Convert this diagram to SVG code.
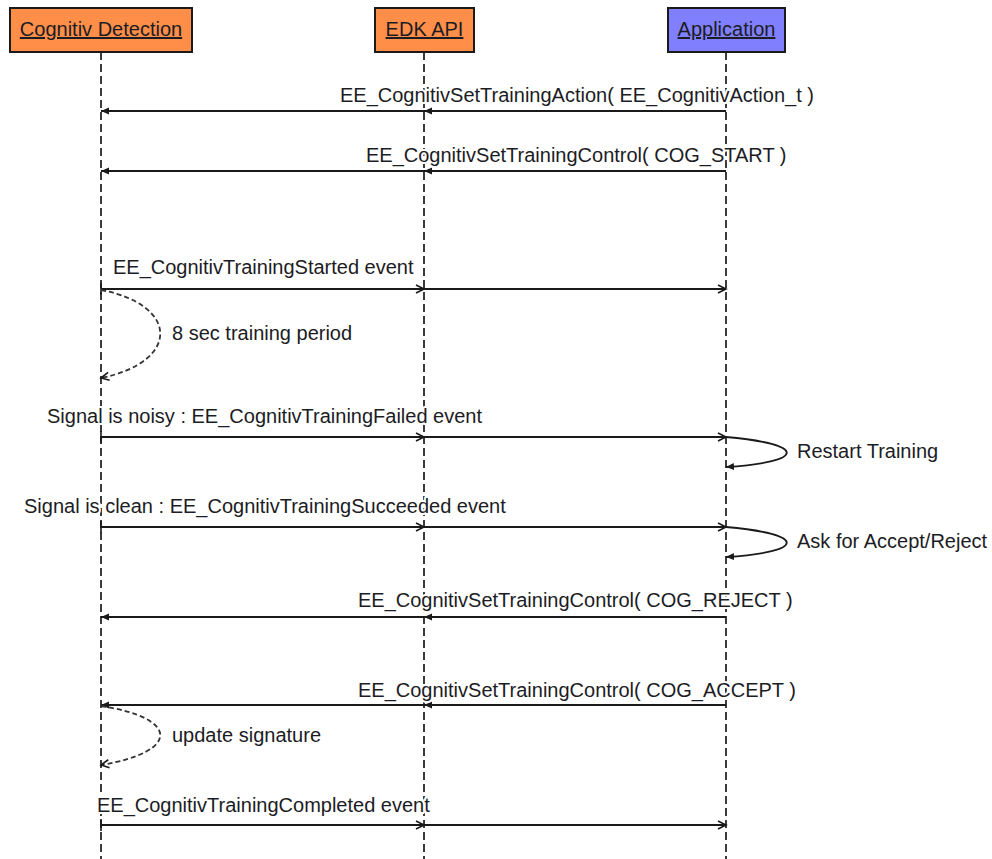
<svg xmlns="http://www.w3.org/2000/svg" width="992" height="859" viewBox="0 0 992 859">
<defs>
<style>
text{font-family:"Liberation Sans",Arial,sans-serif;font-size:20px;fill:#1c1c24}
#connectors text{stroke:#fff;stroke-width:4;paint-order:stroke;stroke-linejoin:round}
.box{stroke:#1a1a1a;stroke-width:2}
.orange{fill:#FF8E48}
.blue{fill:#8080FF}
.life{stroke:#1a1a1a;stroke-width:1.7;stroke-dasharray:8 4;fill:none}
.msg{stroke:#1a1a1a;stroke-width:1.8;fill:none}
.dash{stroke:#333;stroke-width:1.8;fill:none;stroke-dasharray:5 3}
.ul{text-decoration:underline}
</style>
<marker id="fill" markerUnits="userSpaceOnUse" markerWidth="10" markerHeight="8" refX="8" refY="3.5" orient="auto">
<path d="M0,0 L8,3.5 L0,7 z" fill="#1a1a1a"/>
</marker>
<marker id="open" markerUnits="userSpaceOnUse" markerWidth="12" markerHeight="12" refX="9" refY="5" orient="auto">
<path d="M1,1 L9,5 L1,9" fill="none" stroke="#1a1a1a" stroke-width="1.6"/>
</marker>
<marker id="tick" markerUnits="userSpaceOnUse" markerWidth="4" markerHeight="12" refX="1" refY="6" orient="auto">
<path d="M1,0 L1,12" stroke="#1a1a1a" stroke-width="1.6"/>
</marker>
</defs>
<rect width="992" height="859" fill="#fff"/>

<g id="cognitiv">
<line class="life" x1="101" y1="52" x2="101" y2="859"/>
<rect class="box orange" x="10" y="8" width="182" height="44"/>
<text class="ul" x="101" y="36" text-anchor="middle">Cognitiv Detection</text>
</g>
<g id="edk">
<line class="life" x1="424" y1="52" x2="424" y2="859"/>
<rect class="box orange" x="375" y="8" width="99" height="44"/>
<text class="ul" x="424.5" y="36" text-anchor="middle">EDK API</text>
</g>
<g id="application">
<line class="life" x1="726" y1="52" x2="726" y2="859"/>
<rect class="box blue" x="668" y="8" width="117" height="44"/>
<text class="ul" x="726.5" y="36" text-anchor="middle">Application</text>
</g>

<g id="connectors">
<polyline class="msg" points="726,111 424,111 101,111" marker-mid="url(#fill)" marker-end="url(#fill)"/>
<text x="340" y="102">EE_CognitivSetTrainingAction( EE_CognitivAction_t )</text>

<polyline class="msg" points="726,171 424,171 101,171" marker-mid="url(#fill)" marker-end="url(#fill)"/>
<text x="366" y="162">EE_CognitivSetTrainingControl( COG_START )</text>

<polyline class="msg" points="101,289 424,289 726,289" marker-start="url(#tick)" marker-mid="url(#open)" marker-end="url(#open)"/>
<text x="113" y="274">EE_CognitivTrainingStarted event</text>

<path class="dash" d="M101,290 C180,305 180,362 101,378" marker-end="url(#open)"/>
<text x="172" y="340">8 sec training period</text>

<polyline class="msg" points="101,437 424,437 726,437" marker-start="url(#tick)" marker-mid="url(#open)" marker-end="url(#open)"/>
<text x="47" y="423">Signal is noisy : EE_CognitivTrainingFailed event</text>

<path class="msg" d="M726,437 C807,444 807,462 726,467" marker-end="url(#fill)"/>
<text x="797" y="458">Restart Training</text>

<polyline class="msg" points="101,527 424,527 726,527" marker-start="url(#tick)" marker-mid="url(#open)" marker-end="url(#open)"/>
<text x="24" y="513">Signal is clean : EE_CognitivTrainingSucceeded event</text>

<path class="msg" d="M726,527 C807,534 807,552 726,557" marker-end="url(#fill)"/>
<text x="797" y="548">Ask for Accept/Reject</text>

<polyline class="msg" points="726,617 424,617 101,617" marker-mid="url(#fill)" marker-end="url(#fill)"/>
<text x="358" y="607">EE_CognitivSetTrainingControl( COG_REJECT )</text>

<polyline class="msg" points="726,705 424,705 101,705" marker-mid="url(#fill)" marker-end="url(#fill)"/>
<text x="358" y="697">EE_CognitivSetTrainingControl( COG_ACCEPT )</text>

<path class="dash" d="M101,706 C180,718 180,752 101,765" marker-end="url(#open)"/>
<text x="172" y="742">update signature</text>

<polyline class="msg" points="101,825 424,825 726,825" marker-start="url(#tick)" marker-mid="url(#open)" marker-end="url(#open)"/>
<text x="97" y="812">EE_CognitivTrainingCompleted event</text>
</g>
</svg>
